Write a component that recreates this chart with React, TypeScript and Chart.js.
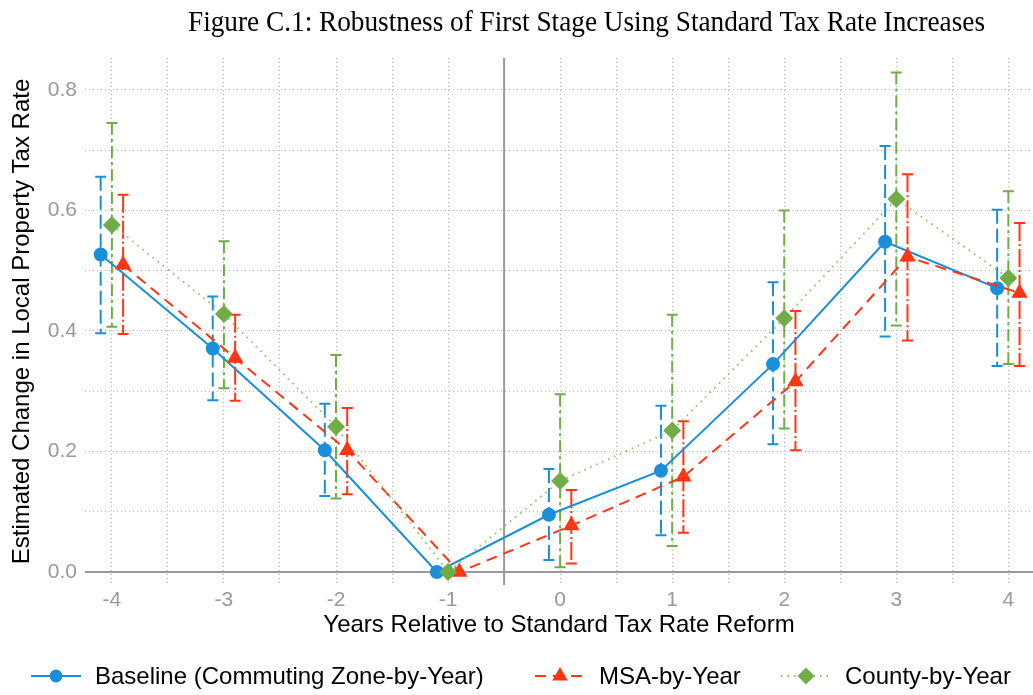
import React, { useEffect, useRef } from 'react';
import { Chart, registerables } from 'chart.js';

Chart.register(...registerables);

// ---------------- data ----------------
const YEARS = [-4, -3, -2, -1, 0, 1, 2, 3, 4];
const X_TICKS = [-4, -3.5, -3, -2.5, -2, -1.5, -1, -0.5, 0, 0.5, 1, 1.5, 2, 2.5, 3, 3.5, 4];
const Y_TICKS = [0, 0.1, 0.2, 0.3, 0.4, 0.5, 0.6, 0.7, 0.8];

const BASE_EST = [0.527, 0.371, 0.202, 0, 0.095, 0.168, 0.345, 0.548, 0.471];
const BASE_LO = [0.396, 0.285, 0.126, 0, 0.02, 0.061, 0.212, 0.391, 0.342];
const BASE_HI = [0.656, 0.457, 0.279, 0, 0.171, 0.276, 0.481, 0.707, 0.601];

const MSA_EST = [0.51, 0.355, 0.202, 0, 0.077, 0.158, 0.316, 0.523, 0.463];
const MSA_LO = [0.395, 0.284, 0.129, 0, 0.014, 0.065, 0.202, 0.384, 0.342];
const MSA_HI = [0.626, 0.427, 0.272, 0, 0.136, 0.25, 0.433, 0.66, 0.579];

const CTY_EST = [0.576, 0.428, 0.241, 0, 0.151, 0.235, 0.421, 0.619, 0.488];
const CTY_LO = [0.407, 0.305, 0.122, 0, 0.008, 0.043, 0.238, 0.409, 0.345];
const CTY_HI = [0.745, 0.549, 0.36, 0, 0.295, 0.427, 0.6, 0.829, 0.632];

const LABELS = ['Baseline (Commuting Zone-by-Year)', 'MSA-by-Year', 'County-by-Year'];
const TITLE = 'Figure C.1: Robustness of First Stage Using Standard Tax Rate Increases';
const X_TITLE = 'Years Relative to Standard Tax Rate Reform';
const Y_TITLE = 'Estimated Change in Local Property Tax Rate';

// ---------------- styles ----------------
const BLUE = '#1a8fd9';
const RED = '#ff3514';
const GREEN = '#70ad47';
const GREEN_LINE = '#8cc46a';
const SANS = '"Liberation Sans", Arial, sans-serif';
const SERIF = '"Liberation Serif", "Times New Roman", serif';

const SERIES = [
  { label: LABELS[0], est: BASE_EST, lo: BASE_LO, hi: BASE_HI, off: -0.1, color: BLUE, lineColor: BLUE, lineDash: [] as number[], barDash: [14, 5], point: 'circle', radius: 7, legendR: 6.5, order: 3, legendX: 31 },
  { label: LABELS[1], est: MSA_EST, lo: MSA_LO, hi: MSA_HI, off: 0.1, color: RED, lineColor: RED, lineDash: [11, 7], barDash: [18, 3, 2, 3], point: 'triangle', radius: 9.5, legendR: 9, order: 2, legendX: 535 },
  { label: LABELS[2], est: CTY_EST, lo: CTY_LO, hi: CTY_HI, off: 0, color: GREEN, lineColor: GREEN_LINE, lineDash: [1.5, 5], barDash: [12, 4, 3, 4], point: 'rectRot', radius: 9, legendR: 8.5, order: 1, legendX: 781 },
];

const X_MIN = -4.24;
const X_MAX = 4.22;
const Y_MIN = -0.0216;
const Y_MAX = 0.853;

function drawMarker(ctx: CanvasRenderingContext2D, style: string, x: number, y: number, r: number, color: string) {
  ctx.save();
  ctx.fillStyle = color;
  ctx.beginPath();
  if (style === 'circle') {
    ctx.arc(x, y, r, 0, Math.PI * 2);
  } else if (style === 'triangle') {
    for (let k = 0; k < 3; k++) {
      const a = (k * 2 * Math.PI) / 3;
      const px = x + Math.sin(a) * r;
      const py = y - Math.cos(a) * r;
      if (k === 0) ctx.moveTo(px, py);
      else ctx.lineTo(px, py);
    }
    ctx.closePath();
  } else {
    ctx.moveTo(x, y - r);
    ctx.lineTo(x + r, y);
    ctx.lineTo(x, y + r);
    ctx.lineTo(x - r, y);
    ctx.closePath();
  }
  ctx.fill();
  ctx.restore();
}

const titlePlugin = {
  id: 'customTitle',
  afterDraw(chart: any) {
    const { ctx } = chart;
    ctx.save();
    ctx.font = `30px ${SERIF}`;
    const w = ctx.measureText(TITLE).width;
    const target = 797;
    const sx = target / w;
    ctx.translate(188, 31);
    ctx.scale(sx, 1);
    ctx.fillStyle = '#000';
    ctx.textAlign = 'left';
    ctx.textBaseline = 'alphabetic';
    ctx.fillText(TITLE, 0, 0);
    ctx.restore();
  },
};

const refLinesPlugin = {
  id: 'refLines',
  beforeDatasetsDraw(chart: any) {
    const { ctx, chartArea, scales } = chart;
    const y0 = scales.y.getPixelForValue(0);
    const xv = scales.x.getPixelForValue(-0.5);
    ctx.save();
    ctx.strokeStyle = '#9a9a9a';
    ctx.lineWidth = 2;
    ctx.beginPath();
    ctx.moveTo(chartArea.left, y0);
    ctx.lineTo(chartArea.right, y0);
    ctx.moveTo(xv, chartArea.top);
    ctx.lineTo(xv, chartArea.bottom);
    ctx.stroke();
    ctx.restore();
  },
};

const errorBarPlugin = {
  id: 'errorBars',
  beforeDatasetsDraw(chart: any) {
    const { ctx, scales } = chart;
    SERIES.forEach((s) => {
      YEARS.forEach((yr, i) => {
        if (s.hi[i] === s.lo[i]) return;
        const px = scales.x.getPixelForValue(yr + s.off);
        const pHi = scales.y.getPixelForValue(s.hi[i]);
        const pLo = scales.y.getPixelForValue(s.lo[i]);
        ctx.save();
        ctx.strokeStyle = s.color;
        ctx.lineWidth = 2;
        ctx.setLineDash(s.barDash);
        ctx.beginPath();
        ctx.moveTo(px, pHi);
        ctx.lineTo(px, pLo);
        ctx.stroke();
        ctx.setLineDash([]);
        ctx.beginPath();
        ctx.moveTo(px - 5.5, pHi);
        ctx.lineTo(px + 5.5, pHi);
        ctx.moveTo(px - 5.5, pLo);
        ctx.lineTo(px + 5.5, pLo);
        ctx.stroke();
        ctx.restore();
      });
    });
  },
};

const legendPlugin = {
  id: 'customLegend',
  afterDraw(chart: any) {
    const { ctx } = chart;
    const y = 676;
    const sampleW = 50;
    const gapText = 14;
    ctx.save();
    ctx.font = `24px ${SANS}`;
    SERIES.forEach((s) => {
      const x = s.legendX;
      ctx.strokeStyle = s.lineColor;
      ctx.lineWidth = 2;
      ctx.setLineDash(s.lineDash);
      ctx.beginPath();
      ctx.moveTo(x, y);
      ctx.lineTo(x + sampleW, y);
      ctx.stroke();
      ctx.setLineDash([]);
      drawMarker(ctx, s.point, x + sampleW / 2, y, s.legendR, s.color);
      ctx.fillStyle = '#000';
      ctx.textBaseline = 'middle';
      ctx.textAlign = 'left';
      ctx.fillText(s.label, x + sampleW + gapText, y + 1);
    });
    ctx.restore();
  },
};

export default function App() {
  const canvasRef = useRef<HTMLCanvasElement | null>(null);

  useEffect(() => {
    const canvas = canvasRef.current;
    if (!canvas) return;
    const chart = new Chart(canvas, {
      type: 'line',
      data: {
        datasets: SERIES.map((s) => ({
          label: s.label,
          data: YEARS.map((yr, i) => ({ x: yr + s.off, y: s.est[i] })),
          borderColor: s.lineColor,
          backgroundColor: s.color,
          borderWidth: 2,
          borderDash: s.lineDash,
          pointStyle: s.point as any,
          pointRadius: s.radius,
          pointHoverRadius: s.radius,
          pointBackgroundColor: s.color,
          pointBorderColor: s.color,
          pointBorderWidth: 0,
          tension: 0,
          fill: false,
          clip: false as any,
          order: s.order,
        })),
      },
      options: {
        animation: false,
        responsive: false,
        maintainAspectRatio: false,
        devicePixelRatio: 1,
        layout: { autoPadding: false, padding: { left: 0, right: 0, top: 58, bottom: 55 } },
        plugins: {
          legend: { display: false },
          tooltip: { enabled: false },
          title: { display: false },
        },
        scales: {
          x: {
            type: 'linear',
            min: X_MIN,
            max: X_MAX,
            afterBuildTicks: (scale: any) => {
              scale.ticks = X_TICKS.map((v) => ({ value: v }));
            },
            afterFit: (scale: any) => {
              scale.height = 55;
              scale.paddingLeft = 0;
              scale.paddingRight = 0;
            },
            ticks: {
              autoSkip: false,
              maxRotation: 0,
              padding: 3,
              color: '#999999',
              font: { family: SANS, size: 21 },
              callback: (v: any) => (Number.isInteger(Number(v)) ? String(v) : ''),
            },
            grid: {
              drawTicks: false,
              color: (c: any) => (c.tick && c.tick.value === -0.5 ? 'rgba(0,0,0,0)' : '#b4b4b4'),
              lineWidth: 1,
            },
            border: { display: false, dash: [1, 3] },
            title: {
              display: true,
              text: X_TITLE,
              color: '#000',
              font: { family: SANS, size: 24 },
              padding: { top: 0, bottom: 0 },
            },
          },
          y: {
            type: 'linear',
            min: Y_MIN,
            max: Y_MAX,
            afterBuildTicks: (scale: any) => {
              scale.ticks = Y_TICKS.map((v) => ({ value: v }));
            },
            afterFit: (scale: any) => {
              scale.width = 85;
              scale.paddingTop = 0;
              scale.paddingBottom = 0;
            },
            ticks: {
              padding: 8,
              color: '#999999',
              font: { family: SANS, size: 21 },
              callback: (v: any) => {
                const n = Number(v);
                return Math.round(n * 10) % 2 === 0 ? n.toFixed(1) : '';
              },
            },
            grid: {
              drawTicks: false,
              color: (c: any) => (c.tick && c.tick.value === 0 ? 'rgba(0,0,0,0)' : '#b4b4b4'),
              lineWidth: 1,
            },
            border: { display: false, dash: [1, 3] },
            title: {
              display: true,
              text: Y_TITLE,
              color: '#000',
              font: { family: SANS, size: 24 },
              padding: { top: 8, bottom: 0 },
            },
          },
        },
      },
      plugins: [refLinesPlugin, errorBarPlugin, legendPlugin, titlePlugin],
    });
    return () => chart.destroy();
  }, []);

  return (
    <div style={{ position: 'absolute', left: 0, top: 0, width: 1033, height: 695, background: '#fff' }}>
      <canvas ref={canvasRef} width={1033} height={695} style={{ display: 'block', width: 1033, height: 695 }} />
    </div>
  );
}
